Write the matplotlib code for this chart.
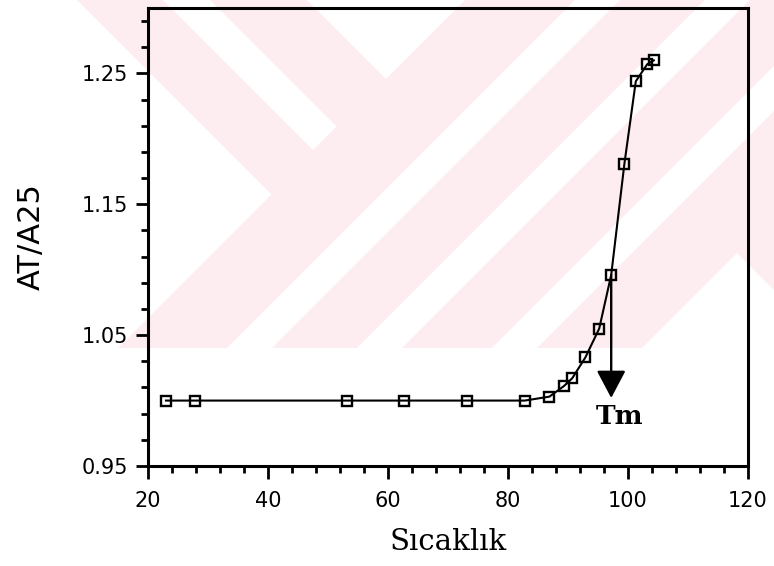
import matplotlib
matplotlib.use("Agg")
import matplotlib.pyplot as plt
from matplotlib.patches import Polygon, Rectangle

# data
sicaklik = [23.0, 27.8, 53.1, 62.7, 73.1, 82.8, 86.9, 89.3, 90.7, 92.9,
            95.2, 97.2, 99.4, 101.3, 103.2, 104.3]
oran = [1.000, 1.000, 1.000, 1.000, 1.000, 1.000, 1.003, 1.011, 1.017, 1.033,
        1.055, 1.096, 1.181, 1.244, 1.257, 1.260]
tm_x = 97.2
tm_top = 1.096
tm_tip = 1.002

xticks = [20, 40, 60, 80, 100, 120]
yticks = [0.95, 1.05, 1.15, 1.25]
ytick_labels = ["0.95", "1.05", "1.15", "1.25"]

# faint watermark behind the chart (pixel coords, y down)
pink = "#fdecf0"
wm_white = [
    [(0, 0), (77, 0), (271.5, 194.5), (118, 348), (0, 348)],
    [(163, 0), (210, 0), (336.5, 126.5), (313, 150)],
    [(307, 0), (465, 0), (386, 79)],
    [(575, 0), (620, 0), (272, 348), (227, 348)],
    [(705, 0), (750, 0), (402, 348), (357, 348)],
    [(774, 66), (774, 111), (537, 348), (492, 348)],
    [(737, 253), (774, 290), (774, 348), (642, 348)],
]

fig = plt.figure(figsize=(7.74, 5.66), dpi=100)

bg = fig.add_axes([0, 0, 1, 1], zorder=0)
bg.set_xlim(0, 774)
bg.set_ylim(566, 0)
bg.axis("off")
bg.add_patch(Rectangle((0, 0), 774, 348, color=pink, lw=0))
for pts in wm_white:
    bg.add_patch(Polygon(pts, closed=True, color="white", lw=0))

ax = fig.add_axes([148/774, 1-466/566, 600/774, 458/566], zorder=1)
ax.patch.set_alpha(0)

ax.plot(sicaklik, oran, color="black", lw=1.5, marker="s", markersize=7.5,
        markerfacecolor="none", markeredgecolor="black", markeredgewidth=1.7)

ax.annotate("", xy=(tm_x, tm_tip), xytext=(tm_x, tm_top),
            arrowprops=dict(arrowstyle="-|>,head_length=0.85,head_width=0.45",
                            color="black", lw=1.7, shrinkA=0, shrinkB=0,
                            mutation_scale=20))
ax.text(98.6, 0.988, "Tm", ha="center", va="center",
        fontsize=19, fontweight="bold", family="DejaVu Serif")

ax.set_xlim(20, 120)
ax.set_ylim(0.95, 1.30)
ax.set_xticks(xticks)
ax.set_xticks(range(24, 120, 4), minor=True)
ax.set_yticks(yticks)
ax.set_yticklabels(ytick_labels)
ax.set_yticks([0.97, 0.99, 1.01, 1.03, 1.07, 1.09, 1.11, 1.13, 1.17, 1.19,
               1.21, 1.23, 1.27, 1.29], minor=True)

for s in ax.spines.values():
    s.set_linewidth(2.2)
ax.tick_params(which="major", length=9, width=2, labelsize=15, direction="out")
ax.tick_params(which="minor", length=5, width=2, direction="out")
ax.tick_params(axis="x", pad=9)
ax.tick_params(axis="y", pad=5)

ax.set_xlabel("Sıcaklık", fontsize=21, family="DejaVu Serif", labelpad=12)
ax.set_ylabel("AT/A25", fontsize=22, labelpad=26)

fig.savefig("out.png", dpi=100)
